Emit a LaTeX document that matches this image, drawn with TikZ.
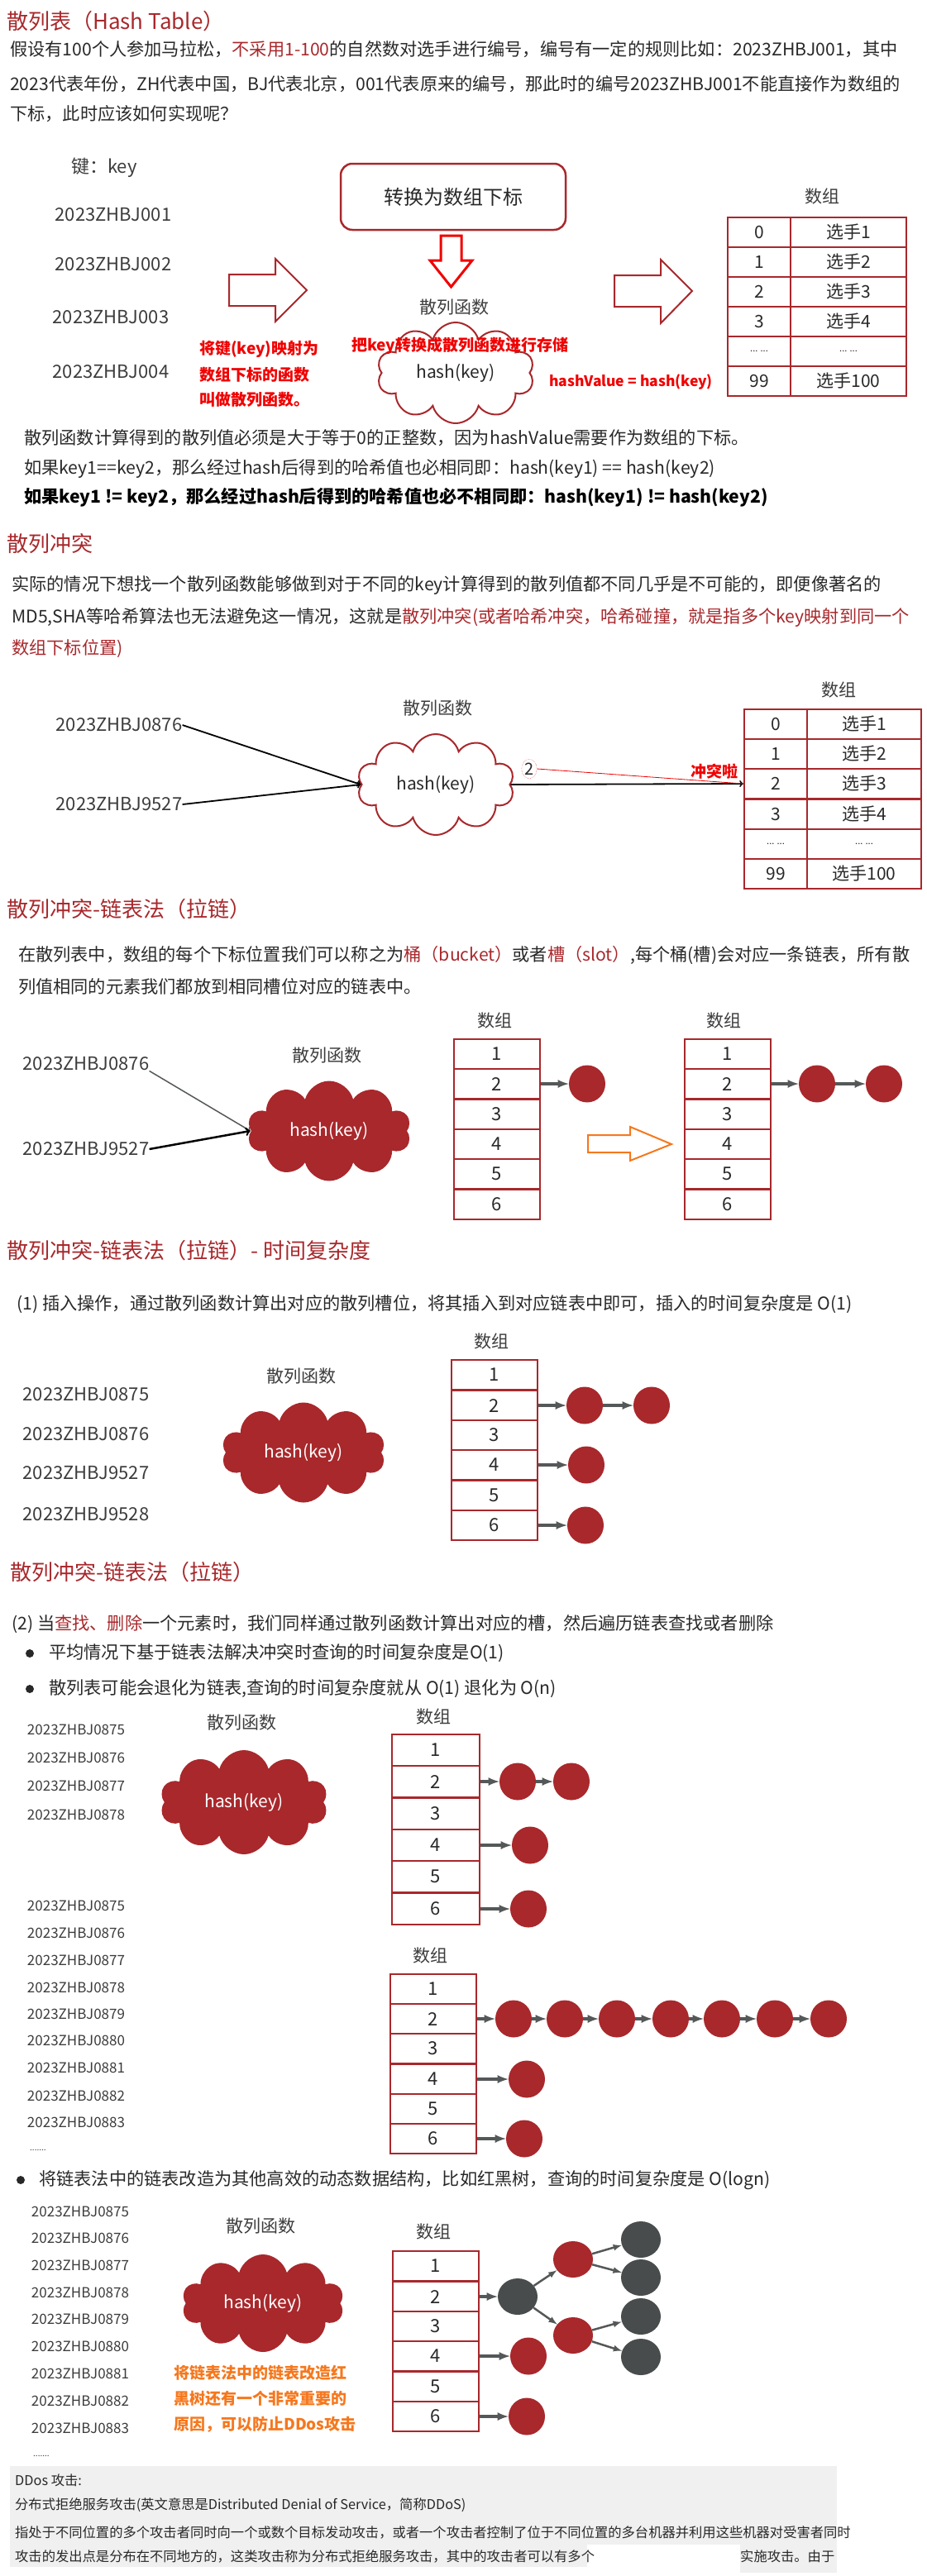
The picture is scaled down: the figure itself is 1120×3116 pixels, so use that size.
\documentclass[tikz,border=0pt]{standalone}
\usepackage{fontspec}
\setmainfont{Noto Sans CJK SC}
\usetikzlibrary{shapes.symbols,shapes.geometric}
\definecolor{hred}{RGB}{168,40,44}
\definecolor{lred}{RGB}{240,0,0}
\definecolor{txt}{RGB}{40,40,40}
\definecolor{keygray}{RGB}{60,60,60}
\definecolor{orng}{RGB}{245,120,30}
\definecolor{nodegray}{RGB}{72,76,76}
\definecolor{arrgray}{RGB}{85,88,88}
\definecolor{boxgray}{RGB}{240,240,240}
\begin{document}
\begin{tikzpicture}[x=1pt, y=-1pt,
            title/.style={anchor=west, inner sep=0, text=hred, font=\fontsize{26}{30}\selectfont},
            para/.style={anchor=west, inner sep=0, text=txt, font=\fontsize{21.2}{25}\selectfont},
            key/.style={inner sep=0, text=keygray, font=\fontsize{22}{26}\selectfont},
            smallkey/.style={inner sep=0, text=keygray, font=\fontsize{17}{20}\selectfont},
            lbl/.style={inner sep=0, text=keygray, font=\fontsize{21}{24}\selectfont},
            redlbl/.style={anchor=west, inner sep=0, text=lred, font=\bfseries\fontsize{19}{22}\selectfont},
            orglbl/.style={redlbl, text=orng},
            roundbox/.style={rectangle, draw=hred, line width=2.5pt, rounded corners=14pt,
            minimum width=272pt, minimum height=80pt, text=txt, font=\fontsize{24}{28}\selectfont},
            cloudw/.style={cloud, cloud puffs=10, cloud ignores aspect, draw=hred, line width=2pt,
            fill=white, minimum width=190pt, minimum height=122pt, text=txt, font=\fontsize{21}{24}\selectfont},
            cloudr/.style={cloudw, draw=none, fill=hred, text=white, minimum width=198pt, minimum height=121pt},
            cell/.style={rectangle, draw=hred, line width=2.5pt, inner sep=0, minimum height=36.2pt,
            text=txt, font=\fontsize{21}{24}\selectfont},
            idx/.style={cell, minimum width=76pt},
            val/.style={cell, minimum width=140pt},
            slot/.style={cell, minimum width=104pt, font=\fontsize{22}{26}\selectfont},
            slotb/.style={slot, minimum width=106pt, minimum height=38.3pt},
            item/.style={ellipse, fill=hred, minimum width=44pt, minimum height=45pt, inner sep=0},
            gitem/.style={item, fill=nodegray, minimum width=48pt, minimum height=44pt},
            link/.style={-latex, draw=arrgray, line width=3.5pt},
            dot/.style={circle, fill=txt, minimum size=10pt, inner sep=0},
            ddos/.style={anchor=west, inner sep=0, text=txt, font=\fontsize{16.3}{19}\selectfont}
        ]
            \useasboundingbox (0,0) rectangle (1120,3116);

            % hash table
            \node (title1) [title] at (8,26) {散列表（Hash Table）};
            \node (intro1) [para] at (12,60) {假设有100个人参加马拉松，\textcolor{hred}{不采用1-100}的自然数对选手进行编号，编号有一定的规则比如：2023ZHBJ001，其中};
            \node (intro2) [para] at (12,102) {2023代表年份，ZH代表中国，BJ代表北京，001代表原来的编号，那此时的编号2023ZHBJ001不能直接作为数组的};
            \node (intro3) [para] at (12,138) {下标，此时应该如何实现呢？};

            \node (keyhead) [key] at (126,203) {键：key};
            \node (key1) [key] at (137,260) {2023ZHBJ001};
            \node (key2) [key] at (137,320) {2023ZHBJ002};
            \node (key3) [key] at (134,384) {2023ZHBJ003};
            \node (key4) [key] at (134,450) {2023ZHBJ004};

            \node (convert) [roundbox] at (548,238) {转换为数组下标};
            \draw [lred, line width=3pt, fill=white] (533,285) -- (558,285) -- (558,315) -- (571,315) -- (545.5,347) -- (520,315) -- (533,315) -- cycle;
            \draw [hred, line width=2pt, fill=white] (277,332) -- (333,332) -- (333,313) -- (371,351) -- (333,389) -- (333,370) -- (277,370) -- cycle;
            \draw [hred, line width=2pt, fill=white] (743,333) -- (799,333) -- (799,314) -- (837,352) -- (799,391) -- (799,371) -- (743,371) -- cycle;

            \node (hashname1) [lbl] at (549,372) {散列函数};
            \node (cloud1) [cloudw] at (551,451) {hash(key)};
            \node (map1) [redlbl] at (241,422) {将键(key)映射为};
            \node (map2) [redlbl] at (241,453) {数组下标的函数};
            \node (map3) [redlbl] at (241,483) {叫做散列函数。};
            \node (store) [redlbl] at (425,418) {把key转换成散列函数进行存储};
            \node (hashvalue) [redlbl, font=\bfseries\fontsize{17.5}{20}\selectfont] at (664,462) {hashValue = hash(key)};

            \node (array1) [lbl] at (994,238) {数组};
            \node (i10) [idx] at (918,281) {0};
            \node (v10) [val] at (1026,281) {选手1};
            \node (i11) [idx] at (918,317) {1};
            \node (v11) [val] at (1026,317) {选手2};
            \node (i12) [idx] at (918,353) {2};
            \node (v12) [val] at (1026,353) {选手3};
            \node (i13) [idx] at (918,389) {3};
            \node (v13) [val] at (1026,389) {选手4};
            \node (i14) [idx, font=\fontsize{11}{12}\selectfont] at (918,425) {... ...};
            \node (v14) [val, font=\fontsize{11}{12}\selectfont] at (1026,425) {... ...};
            \node (i15) [idx] at (918,461) {99};
            \node (v15) [val] at (1026,461) {选手100};

            \node (rule1) [para] at (29,530) {散列函数计算得到的散列值必须是大于等于0的正整数，因为hashValue需要作为数组的下标。};
            \node (rule2) [para] at (29,567) {如果key1==key2，那么经过hash后得到的哈希值也必相同即：hash(key1) == hash(key2)};
            \node (rule3) [para, text=black, font=\bfseries\fontsize{21.2}{25}\selectfont] at (29,602) {如果key1 != key2，那么经过hash后得到的哈希值也必不相同即：hash(key1) != hash(key2)};

            % collision
            \node (title2) [title] at (8,658) {散列冲突};
            \node (conf1) [para] at (14,708) {实际的情况下想找一个散列函数能够做到对于不同的key计算得到的散列值都不同几乎是不可能的，即便像著名的};
            \node (conf2) [para] at (14,747) {MD5,SHA等哈希算法也无法避免这一情况，这就是\textcolor{hred}{散列冲突(或者哈希冲突，哈希碰撞，就是指多个key映射到同一个}};
            \node (conf3) [para] at (14,785) {\textcolor{hred}{数组下标位置)}};

            \node (hashname2) [lbl] at (529,857) {散列函数};
            \node (k21) [key] at (144,877) {2023ZHBJ0876};
            \node (k22) [key] at (144,973) {2023ZHBJ9527};
            \node (cloud2) [cloudw] at (527,949) {hash(key)};
            \node (array2) [lbl] at (1014,835) {数组};
            \node (i20) [idx] at (938,876) {0};
            \node (v20) [val, minimum width=138pt] at (1045,876) {选手1};
            \node (i21) [idx] at (938,912) {1};
            \node (v21) [val, minimum width=138pt] at (1045,912) {选手2};
            \node (i22) [idx] at (938,948) {2};
            \node (v22) [val, minimum width=138pt] at (1045,948) {选手3};
            \node (i23) [idx] at (938,985) {3};
            \node (v23) [val, minimum width=138pt] at (1045,985) {选手4};
            \node (i24) [idx, font=\fontsize{11}{12}\selectfont] at (938,1021) {... ...};
            \node (v24) [val, minimum width=138pt, font=\fontsize{11}{12}\selectfont] at (1045,1021) {... ...};
            \node (i25) [idx] at (938,1057) {99};
            \node (v25) [val, minimum width=138pt] at (1045,1057) {选手100};
            \node (two) [ellipse, draw=lred, densely dotted, inner sep=1pt, text=txt, font=\fontsize{20}{22}\selectfont] at (640,930) {2};
            \node (clash) [redlbl, anchor=center] at (864,933) {冲突啦};

            \draw [->, line width=1.8pt] (k21.east) -- (cloud2.west);
            \draw [->, line width=1.8pt] (k22.east) -- (cloud2.west);
            \draw [->, line width=1.8pt] (cloud2.east) -- (i22.west);
            \draw [lred, line width=0.8pt] (two.east) -- (i22.west);

            % chaining
            \node (title3) [title] at (8,1100) {散列冲突-链表法（拉链）};
            \node (chain1) [para] at (22,1155) {在散列表中，数组的每个下标位置我们可以称之为\textcolor{hred}{桶（bucket）}或者\textcolor{hred}{槽（slot）},每个桶(槽)会对应一条链表，所有散};
            \node (chain2) [para] at (22,1193) {列值相同的元素我们都放到相同槽位对应的链表中。};

            \node (hashname3) [lbl] at (395,1277) {散列函数};
            \node (k31) [key] at (104,1287) {2023ZHBJ0876};
            \node (k32) [key] at (104,1390) {2023ZHBJ9527};
            \node (cloud3) [cloudr] at (398,1368) {hash(key)};
            \draw [->, draw=arrgray, line width=1.5pt] (k31.south east) -- (cloud3.west);
            \draw [->, line width=2.5pt] (k32.east) -- (cloud3.west);

            \node (array3) [lbl] at (598,1235) {数组};
            \node (a31) [slot] at (601,1275) {1};
            \node (a32) [slot] at (601,1311) {2};
            \node (a33) [slot] at (601,1348) {3};
            \node (a34) [slot] at (601,1384) {4};
            \node (a35) [slot] at (601,1420) {5};
            \node (a36) [slot] at (601,1457) {6};
            \node (n31) [item] at (710,1311) {};
            \draw [link] (a32.east) -- (n31.west);

            \draw [orng, line width=2pt] (711,1373) -- (762,1373) -- (762,1363) -- (812,1384) -- (762,1404) -- (762,1394) -- (711,1394) -- cycle;

            \node (array3b) [lbl] at (875,1235) {数组};
            \node (b31) [slot] at (880,1275) {1};
            \node (b32) [slot] at (880,1311) {2};
            \node (b33) [slot] at (880,1348) {3};
            \node (b34) [slot] at (880,1384) {4};
            \node (b35) [slot] at (880,1420) {5};
            \node (b36) [slot] at (880,1457) {6};
            \node (m31) [item] at (988,1311) {};
            \node (m32) [item] at (1069,1311) {};
            \draw [link] (b32.east) -- (m31.west);
            \draw [link] (m31.east) -- (m32.west);

            % time complexity
            \node (title4) [title] at (8,1513) {散列冲突-链表法（拉链）- 时间复杂度};
            \node (insert) [para] at (20,1578) {(1) 插入操作，通过散列函数计算出对应的散列槽位，将其插入到对应链表中即可，插入的时间复杂度是 O(1)};

            \node (array4) [lbl] at (594,1623) {数组};
            \node (hashname4) [lbl] at (364,1665) {散列函数};
            \node (k41) [key] at (104,1687) {2023ZHBJ0875};
            \node (k42) [key] at (104,1735) {2023ZHBJ0876};
            \node (k43) [key] at (104,1782) {2023ZHBJ9527};
            \node (k44) [key] at (104,1832) {2023ZHBJ9528};
            \node (cloud4) [cloudr] at (367,1757) {hash(key)};
            \node (a41) [slot] at (598,1663) {1};
            \node (a42) [slot] at (598,1700) {2};
            \node (a43) [slot] at (598,1736) {3};
            \node (a44) [slot] at (598,1772) {4};
            \node (a45) [slot] at (598,1809) {5};
            \node (a46) [slot] at (598,1845) {6};
            \node (n41) [item] at (707,1700) {};
            \node (n42) [item] at (788,1700) {};
            \node (n43) [item] at (709,1772) {};
            \node (n44) [item] at (708,1845) {};
            \draw [link] (a42.east) -- (n41.west);
            \draw [link] (n41.east) -- (n42.west);
            \draw [link] (a44.east) -- (n43.west);
            \draw [link] (a46.east) -- (n44.west);

            % lookup and delete
            \node (title5) [title] at (12,1902) {散列冲突-链表法（拉链）};
            \node (find) [para] at (14,1965) {(2) 当\textcolor{hred}{查找、删除}一个元素时，我们同样通过散列函数计算出对应的槽，然后遍历链表查找或者删除};
            \node (dot1) [dot] at (36,2000) {};
            \node (avg) [para] at (59,2000) {平均情况下基于链表法解决冲突时查询的时间复杂度是O(1)};
            \node (dot2) [dot] at (36,2043) {};
            \node (worst) [para] at (59,2043) {散列表可能会退化为链表,查询的时间复杂度就从 O(1) 退化为 O(n)};

            \node (hashname5) [lbl] at (292,2084) {散列函数};
            \node (array5) [lbl] at (524,2077) {数组};
            \node (k51) [smallkey] at (92,2092) {2023ZHBJ0875};
            \node (k52) [smallkey] at (92,2126) {2023ZHBJ0876};
            \node (k53) [smallkey] at (92,2160) {2023ZHBJ0877};
            \node (k54) [smallkey] at (92,2195) {2023ZHBJ0878};
            \node (cloud5) [cloudr, minimum width=203pt, minimum height=126pt] at (295,2180) {hash(key)};
            \node (a51) [slotb] at (527,2117) {1};
            \node (a52) [slotb] at (527,2155) {2};
            \node (a53) [slotb] at (527,2194) {3};
            \node (a54) [slotb] at (527,2232) {4};
            \node (a55) [slotb] at (527,2270) {5};
            \node (a56) [slotb] at (527,2309) {6};
            \node (n51) [item] at (626,2155) {};
            \node (n52) [item] at (691,2155) {};
            \node (n53) [item] at (641,2232) {};
            \node (n54) [item] at (639,2309) {};
            \draw [link] (a52.east) -- (n51.west);
            \draw [link] (n51.east) -- (n52.west);
            \draw [link] (a54.east) -- (n53.west);
            \draw [link] (a56.east) -- (n54.west);

            \node (l51) [smallkey] at (92,2305) {2023ZHBJ0875};
            \node (l52) [smallkey] at (92,2338) {2023ZHBJ0876};
            \node (l53) [smallkey] at (92,2371) {2023ZHBJ0877};
            \node (l54) [smallkey] at (92,2404) {2023ZHBJ0878};
            \node (l55) [smallkey] at (92,2436) {2023ZHBJ0879};
            \node (l56) [smallkey] at (92,2468) {2023ZHBJ0880};
            \node (l57) [smallkey] at (92,2501) {2023ZHBJ0881};
            \node (l58) [smallkey] at (92,2535) {2023ZHBJ0882};
            \node (l59) [smallkey] at (92,2567) {2023ZHBJ0883};
            \node (more5) [smallkey, anchor=west, font=\fontsize{10}{12}\selectfont] at (36,2601) {.......};
            \node (array5b) [lbl] at (520,2366) {数组};
            \node (b51) [slot] at (524,2406) {1};
            \node (b52) [slot] at (524,2442) {2};
            \node (b53) [slot] at (524,2478) {3};
            \node (b54) [slot] at (524,2515) {4};
            \node (b55) [slot] at (524,2551) {5};
            \node (b56) [slot] at (524,2587) {6};
            \node (m51) [item] at (621,2442) {};
            \node (m52) [item] at (683,2442) {};
            \node (m53) [item] at (746,2442) {};
            \node (m54) [item] at (811,2442) {};
            \node (m55) [item] at (873,2442) {};
            \node (m56) [item] at (937,2442) {};
            \node (m57) [item] at (1002,2442) {};
            \node (m58) [item] at (637,2515) {};
            \node (m59) [item] at (634,2587) {};
            \draw [link] (b52.east) -- (m51.west);
            \draw [link] (m51.east) -- (m52.west);
            \draw [link] (m52.east) -- (m53.west);
            \draw [link] (m53.east) -- (m54.west);
            \draw [link] (m54.east) -- (m55.west);
            \draw [link] (m55.east) -- (m56.west);
            \draw [link] (m56.east) -- (m57.west);
            \draw [link] (b54.east) -- (m58.west);
            \draw [link] (b56.east) -- (m59.west);

            % red-black tree
            \node (dot3) [dot] at (25,2637) {};
            \node (tree) [para] at (47,2637) {将链表法中的链表改造为其他高效的动态数据结构，比如红黑树，查询的时间复杂度是 O(logn)};
            \node (t51) [smallkey] at (97,2675) {2023ZHBJ0875};
            \node (t52) [smallkey] at (97,2707) {2023ZHBJ0876};
            \node (t53) [smallkey] at (97,2740) {2023ZHBJ0877};
            \node (t54) [smallkey] at (97,2773) {2023ZHBJ0878};
            \node (t55) [smallkey] at (97,2805) {2023ZHBJ0879};
            \node (t56) [smallkey] at (97,2838) {2023ZHBJ0880};
            \node (t57) [smallkey] at (97,2871) {2023ZHBJ0881};
            \node (t58) [smallkey] at (97,2904) {2023ZHBJ0882};
            \node (t59) [smallkey] at (97,2937) {2023ZHBJ0883};
            \node (more6) [smallkey, anchor=west, font=\fontsize{10}{12}\selectfont] at (40,2971) {.......};
            \node (hashname6) [lbl] at (315,2693) {散列函数};
            \node (array6) [lbl] at (524,2700) {数组};
            \node (cloud6) [cloudr, minimum width=196pt, minimum height=118pt] at (318,2786) {hash(key)};
            \node (why1) [orglbl] at (210,2870) {将链表法中的链表改造红};
            \node (why2) [orglbl] at (210,2901) {黑树还有一个非常重要的};
            \node (why3) [orglbl] at (210,2933) {原因，可以防止DDos攻击};
            \node (c51) [slot] at (527,2741) {1};
            \node (c52) [slot] at (527,2778) {2};
            \node (c53) [slot] at (527,2814) {3};
            \node (c54) [slot] at (527,2850) {4};
            \node (c55) [slot] at (527,2887) {5};
            \node (c56) [slot] at (527,2923) {6};
            \node (root) [gitem] at (626,2778) {};
            \node (red1) [item, minimum width=48pt, minimum height=44pt] at (693,2733) {};
            \node (red2) [item, minimum width=48pt, minimum height=44pt] at (693,2825) {};
            \node (leaf1) [gitem] at (775,2709) {};
            \node (leaf2) [gitem] at (775,2755) {};
            \node (leaf3) [gitem] at (775,2802) {};
            \node (leaf4) [gitem] at (775,2851) {};
            \node (o54) [item] at (639,2850) {};
            \node (o56) [item] at (637,2923) {};
            \draw [link] (c52.east) -- (root.west);
            \draw [link, line width=2.5pt] (root) -- (red1);
            \draw [link, line width=2.5pt] (root) -- (red2);
            \draw [link, line width=2.5pt] (red1) -- (leaf1);
            \draw [link, line width=2.5pt] (red1) -- (leaf2);
            \draw [link, line width=2.5pt] (red2) -- (leaf3);
            \draw [link, line width=2.5pt] (red2) -- (leaf4);
            \draw [link] (c54.east) -- (o54.west);
            \draw [link] (c56.east) -- (o56.west);

            % DDoS note
            \fill [boxgray] (12,2983) rectangle (1012,3078);
            \fill [boxgray] (12,3078) rectangle (710,3105);
            \fill [boxgray] (895,3078) rectangle (1012,3112);
            \node (ddos1) [ddos] at (18,3000) {DDos 攻击:};
            \node (ddos2) [ddos] at (18,3030) {分布式拒绝服务攻击(英文意思是Distributed Denial of Service，简称DDoS)};
            \node (ddos3) [ddos] at (18,3063) {指处于不同位置的多个攻击者同时向一个或数个目标发动攻击，或者一个攻击者控制了位于不同位置的多台机器并利用这些机器对受害者同时};
            \node (ddos4) [ddos] at (18,3092) {攻击的发出点是分布在不同地方的，这类攻击称为分布式拒绝服务攻击，其中的攻击者可以有多个};
            \node (ddos5) [ddos] at (895,3092) {实施攻击。由于};
        \end{tikzpicture}
\end{document}
